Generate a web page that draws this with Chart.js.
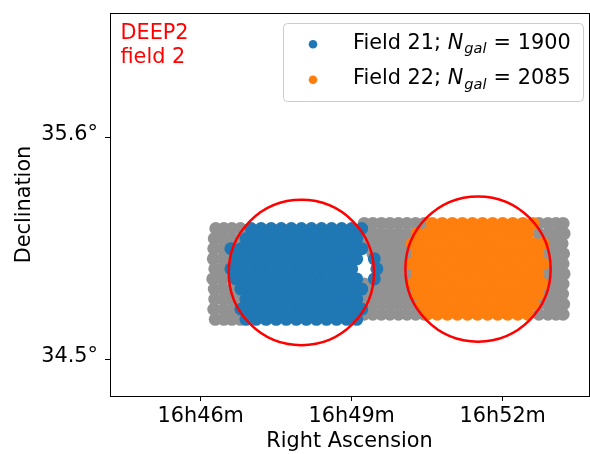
<!DOCTYPE html>
<html lang="en">
<head>
<meta charset="UTF-8">
<title>DEEP2 field 2</title>
<script src="https://cdn.jsdelivr.net/npm/chart.js"></script>
<style>
  body { margin: 0; background: #fff; }
  .wrap { width: 590px; height: 454px; }
</style>
</head>
<body>
<div class="wrap"><canvas id="sky" width="590" height="454"></canvas></div>
<script>
// RA is in minutes past 16h, Dec in degrees
var raTicks = [46, 49, 52];
var decTicks = [34.5, 35.6];

var fieldNames = ['Field 21', 'Field 22'];
var fieldCounts = [1900, 2085];

// pointing circles
var circleRa = [48.00, 51.51];
var circleDec = [34.932, 34.949];
var circleRadius = [0.36, 0.36];

// field 21 galaxies, one RA list per Dec row
var field21Dec = [35.15, 35.10, 35.05, 35.00, 34.95, 34.90, 34.85, 34.80, 34.75, 34.70];
var field21Ra = [
  [47.0, 47.2, 47.4, 47.6, 47.8, 48.0, 48.2, 48.4, 48.6, 48.8, 49.0, 49.2],
  [46.9, 47.1, 47.3, 47.5, 47.7, 47.9, 48.1, 48.3, 48.5, 48.7, 48.9, 49.1],
  [46.6, 46.8, 47.0, 47.2, 47.4, 47.6, 47.8, 48.0, 48.2, 48.4, 48.6, 48.8, 49.0, 49.2],
  [46.7, 46.9, 47.1, 47.3, 47.5, 47.7, 47.9, 48.1, 48.3, 48.5, 48.7, 48.9, 49.1, 49.45],
  [46.6, 46.8, 47.0, 47.2, 47.4, 47.6, 47.8, 48.0, 48.2, 48.4, 48.6, 48.8, 49.0, 49.5],
  [46.7, 46.9, 47.1, 47.3, 47.5, 47.7, 47.9, 48.1, 48.3, 48.5, 48.7, 48.9, 49.1, 49.45],
  [46.8, 47.0, 47.2, 47.4, 47.6, 47.8, 48.0, 48.2, 48.4, 48.6, 48.8, 49.0, 49.2],
  [46.9, 47.1, 47.3, 47.5, 47.7, 47.9, 48.1, 48.3, 48.5, 48.7, 48.9, 49.1],
  [46.8, 47.0, 47.2, 47.4, 47.6, 47.8, 48.0, 48.2, 48.4, 48.6, 48.8, 49.0, 49.2],
  [46.9, 47.1, 47.3, 47.5, 47.7, 47.9, 48.1, 48.3, 48.5, 48.7, 48.9, 49.1]
];

// field 22 galaxies
var field22Dec = [35.175, 35.125, 35.075, 35.025, 34.975, 34.925, 34.875, 34.825, 34.775, 34.725];
var field22Ra = [
  [50.6, 50.8, 51.0, 51.2, 51.4, 51.6, 51.8, 52.0, 52.2, 52.4, 52.6],
  [50.3, 50.5, 50.7, 50.9, 51.1, 51.3, 51.5, 51.7, 51.9, 52.1, 52.3, 52.5],
  [50.2, 50.4, 50.6, 50.8, 51.0, 51.2, 51.4, 51.6, 51.8, 52.0, 52.2, 52.4, 52.6, 52.8],
  [50.3, 50.5, 50.7, 50.9, 51.1, 51.3, 51.5, 51.7, 51.9, 52.1, 52.3, 52.5, 52.7],
  [50.2, 50.4, 50.6, 50.8, 51.0, 51.2, 51.4, 51.6, 51.8, 52.0, 52.2, 52.4, 52.6, 52.8],
  [50.3, 50.5, 50.7, 50.9, 51.1, 51.3, 51.5, 51.7, 51.9, 52.1, 52.3, 52.5, 52.7],
  [50.2, 50.4, 50.6, 50.8, 51.0, 51.2, 51.4, 51.6, 51.8, 52.0, 52.2, 52.4, 52.6, 52.8],
  [50.3, 50.5, 50.7, 50.9, 51.1, 51.3, 51.5, 51.7, 51.9, 52.1, 52.3, 52.5, 52.7],
  [50.4, 50.6, 50.8, 51.0, 51.2, 51.4, 51.6, 51.8, 52.0, 52.2, 52.4, 52.6],
  [50.5, 50.7, 50.9, 51.1, 51.3, 51.5, 51.7, 51.9, 52.1, 52.3, 52.5]
];

// rest of the field 2 catalogue, west edge
var otherWestDec = [35.15, 35.10, 35.05, 35.00, 34.95, 34.90, 34.85, 34.80, 34.75, 34.70];
var otherWestRa = [
  [46.30, 46.46, 46.62, 46.79],
  [46.27, 46.45, 46.62, 46.79],
  [46.26, 46.44, 46.62, 46.79],
  [46.25, 46.44, 46.62],
  [46.28, 46.45, 46.62],
  [46.24, 46.43, 46.62],
  [46.27, 46.45, 46.62, 46.79],
  [46.28, 46.46, 46.62, 46.79],
  [46.26, 46.45, 46.62, 46.79],
  [46.29, 46.46, 46.62, 46.79]
];

// middle gap and east edge
var otherEastDec = [35.175, 35.125, 35.075, 35.025, 34.975, 34.925, 34.875, 34.825, 34.775, 34.725];
var otherEastRa = [
  [49.25, 49.42, 49.59, 49.76, 49.93, 50.10, 50.27, 50.44, 52.72, 52.90, 53.06, 53.20],
  [49.25, 49.42, 49.59, 49.76, 49.93, 50.10, 50.27, 50.44, 52.72, 52.90, 53.07, 53.22],
  [49.25, 49.42, 49.59, 49.76, 49.93, 50.10, 50.27, 52.72, 52.90, 53.05, 53.18],
  [49.42, 49.59, 49.76, 49.93, 50.10, 50.27, 52.72, 52.90, 53.06, 53.21],
  [49.59, 49.76, 49.93, 50.10, 50.27, 52.72, 52.90, 53.05, 53.20],
  [49.59, 49.76, 49.93, 50.10, 50.27, 52.72, 52.90, 53.07, 53.22],
  [49.25, 49.42, 49.59, 49.76, 49.93, 50.10, 50.27, 52.72, 52.90, 53.06, 53.20],
  [49.25, 49.42, 49.59, 49.76, 49.93, 50.10, 50.27, 52.72, 52.90, 53.05, 53.19],
  [49.25, 49.42, 49.59, 49.76, 49.93, 50.10, 50.27, 50.44, 52.72, 52.90, 53.07, 53.21],
  [49.25, 49.42, 49.59, 49.76, 49.93, 50.10, 50.27, 50.44, 52.72, 52.90, 53.06, 53.20]
];

var FS = 20.8;
var BLUE = '#1f77b4', ORANGE = '#ff7f0e', GREY = '#929292', RED = '#ff0000';

function rowsToPoints(decs, ras) {
  var pts = [];
  decs.forEach(function (d, i) {
    ras[i].forEach(function (r) { pts.push({ x: r, y: d }); });
  });
  return pts;
}

var circlePts = circleRa.map(function (r, i) { return { x: r, y: circleDec[i] }; });

// frame, field name and the legend with N_gal subscript
var decorations = {
  id: 'decorations',
  afterDraw: function (chart) {
    var ctx = chart.ctx, a = chart.chartArea;
    ctx.save();
    ctx.strokeStyle = '#000';
    ctx.lineWidth = 1;
    ctx.strokeRect(a.left + 0.5, a.top + 0.5, a.right - a.left, a.bottom - a.top);

    ctx.fillStyle = RED;
    ctx.textBaseline = 'alphabetic';
    ctx.font = FS + 'px "DejaVu Sans"';
    ctx.fillText('DEEP2', 120.5, 39.3);
    ctx.fillText('field 2', 120.5, 63.3);

    // legend box
    var bx = 283.5, by = 23.5, bw = 300, bh = 78, rr = 4;
    ctx.beginPath();
    ctx.moveTo(bx + rr, by);
    ctx.arcTo(bx + bw, by, bx + bw, by + bh, rr);
    ctx.arcTo(bx + bw, by + bh, bx, by + bh, rr);
    ctx.arcTo(bx, by + bh, bx, by, rr);
    ctx.arcTo(bx, by, bx + bw, by, rr);
    ctx.closePath();
    ctx.fillStyle = 'rgba(255,255,255,0.8)';
    ctx.fill();
    ctx.strokeStyle = '#cccccc';
    ctx.stroke();

    var colors = [BLUE, ORANGE];
    fieldNames.forEach(function (name, i) {
      var base = 48.5 + i * 35.5;
      ctx.beginPath();
      ctx.arc(313, base - 4.3, 4.3, 0, Math.PI * 2);
      ctx.fillStyle = colors[i];
      ctx.fill();

      ctx.fillStyle = '#000';
      var x = 353;
      ctx.font = FS + 'px "DejaVu Sans"';
      var s = name + '; ';
      ctx.fillText(s, x, base); x += ctx.measureText(s).width;
      ctx.font = 'italic ' + FS + 'px "DejaVu Sans"';
      ctx.fillText('N', x, base); x += ctx.measureText('N').width;
      ctx.font = 'italic ' + (FS * 0.7) + 'px "DejaVu Sans"';
      ctx.fillText('gal', x + 1, base + 4.5); x += ctx.measureText('gal').width + 1;
      ctx.font = FS + 'px "DejaVu Sans"';
      x += 7;
      ctx.fillText('=', x, base); x += ctx.measureText('=').width + 7;
      ctx.fillText(String(fieldCounts[i]), x, base);
    });
    ctx.restore();
  }
};

Chart.defaults.font.family = '"DejaVu Sans"';
Chart.defaults.font.size = FS;
Chart.defaults.color = '#000';

new Chart(document.getElementById('sky'), {
  type: 'scatter',
  data: {
    datasets: [
      {
        label: 'circles',
        data: circlePts,
        order: 0,
        backgroundColor: 'rgba(0,0,0,0)',
        borderColor: RED,
        borderWidth: 2.5,
        pointRadius: function (c) {
          var y = c.chart.scales.y, d = circleDec[c.dataIndex];
          return Math.abs(y.getPixelForValue(d + circleRadius[c.dataIndex]) - y.getPixelForValue(d));
        }
      },
      {
        label: fieldNames[0],
        data: rowsToPoints(field21Dec, field21Ra),
        order: 1,
        backgroundColor: BLUE,
        borderWidth: 0,
        pointRadius: 6.5
      },
      {
        label: fieldNames[1],
        data: rowsToPoints(field22Dec, field22Ra),
        order: 2,
        backgroundColor: ORANGE,
        borderWidth: 0,
        pointRadius: 6.5
      },
      {
        label: 'all',
        data: rowsToPoints(otherWestDec, otherWestRa).concat(rowsToPoints(otherEastDec, otherEastRa)),
        order: 3,
        backgroundColor: GREY,
        borderWidth: 0,
        pointRadius: 6.5
      }
    ]
  },
  options: {
    responsive: false,
    animation: false,
    events: [],
    layout: { autoPadding: false, padding: { top: 13, right: 1, left: 0, bottom: 0 } },
    plugins: { legend: { display: false }, tooltip: { enabled: false } },
    scales: {
      x: {
        type: 'linear',
        min: 44.198,
        max: 53.715,
        afterFit: function (s) {
          s.height = 58;
          s.paddingLeft = 0;
          s.paddingRight = 0;
        },
        afterBuildTicks: function (s) { s.ticks = raTicks.map(function (v) { return { value: v }; }); },
        ticks: { padding: 3, color: '#000', callback: function (v) { return '16h' + v + 'm'; } },
        grid: { drawOnChartArea: false, drawTicks: true, tickLength: 5, tickColor: '#000', tickWidth: 1 },
        border: { display: false },
        title: { display: true, text: 'Right Ascension', color: '#000', padding: { top: 0, bottom: 0 } }
      },
      y: {
        type: 'linear',
        min: 34.320,
        max: 36.218,
        afterFit: function (s) {
          s.width = 110;
          s.paddingTop = 0;
          s.paddingBottom = 0;
        },
        afterBuildTicks: function (s) { s.ticks = decTicks.map(function (v) { return { value: v }; }); },
        ticks: { padding: 7, labelOffset: -3, color: '#000', callback: function (v) { return v.toFixed(1) + '°'; } },
        grid: { drawOnChartArea: false, drawTicks: true, tickLength: 5, tickColor: '#000', tickWidth: 1 },
        border: { display: false },
        title: { display: true, text: 'Declination', color: '#000', padding: { top: 12, bottom: 0 } }
      }
    }
  },
  plugins: [decorations]
});
</script>
</body>
</html>
